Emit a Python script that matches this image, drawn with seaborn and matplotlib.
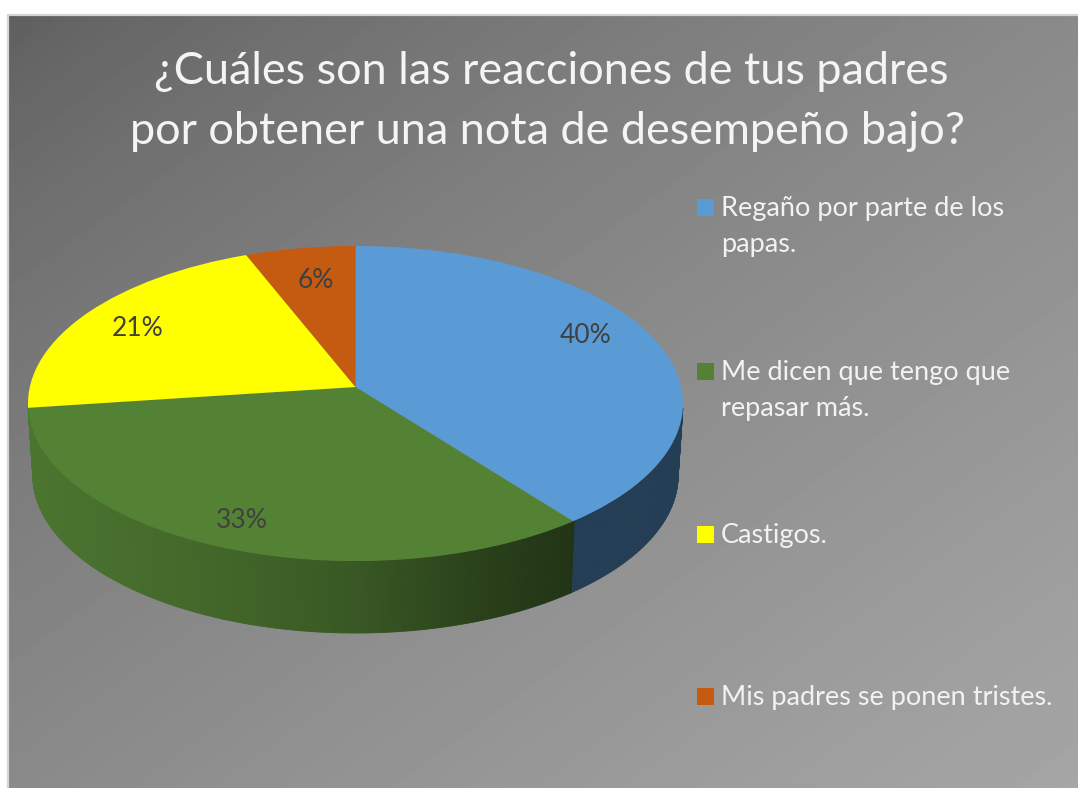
import numpy as np
import matplotlib
matplotlib.use('Agg')
import matplotlib.pyplot as plt
import matplotlib.transforms as mtransforms
from matplotlib.patches import Rectangle
import seaborn as sns

title_lines = ['¿Cuáles son las reacciones de tus padres',
               'por obtener una nota de desempeño bajo?']
categories = ['Regaño por parte de los\npapas.',
              'Me dicen que tengo que\nrepasar más.',
              'Castigos.',
              'Mis padres se ponen tristes.']
values = [39.5, 33.4, 21.1, 6.0]
colors = ['#5b9bd5', '#548235', '#ffff00', '#c55a11']
label_pos = [(586, 335), (242, 520), (138, 328), (316, 280)]
legend_y = [207, 371, 534, 696]

# vista inclinada del pastel (en pixeles de la imagen)
CX, CY = 355.5, 387.0
TILT = 0.1048
SX, SY = 325.7, 155.8
DEPTH = 72
BOTTOM_SCALE = 0.985


class TiltTransform(mtransforms.Transform):
    input_dims = 2
    output_dims = 2

    def transform_non_affine(self, xy):
        xy = np.asarray(xy, dtype=float)
        w = 1 + TILT * xy[:, 1]
        return np.column_stack([CX + SX * xy[:, 0] / w, CY - SY * xy[:, 1] / w])


sns.set_theme(style='white')
plt.rcParams['font.family'] = ['Lato', 'DejaVu Sans']

fig = plt.figure(figsize=(10.78, 7.88), dpi=100, facecolor='white')
ax = fig.add_axes([0, 0, 1, 1])

# fondo degradado
gx, gy = np.meshgrid(np.linspace(0, 1, 200), np.linspace(0, 1, 200))
grad = 0.37 + 0.28 * ((gx + gy) / 2) ** 0.72
ax.imshow(grad, cmap='gray', vmin=0, vmax=1, extent=[9, 1078, 788, 16],
          aspect='auto', zorder=0, interpolation='bilinear')
ax.plot([8, 8, 1078], [788, 15, 15], color='#d4d4d4', lw=1.6, zorder=1)

palette = sns.color_palette(colors)
wedges, _ = ax.pie(values, colors=palette, startangle=90, counterclock=False,
                   wedgeprops={'linewidth': 0, 'zorder': 4})
tilt = TiltTransform()
for w in wedges:
    w.set_transform(tilt + ax.transData)

# pared lateral del pastel, sombreada por tramos
for w, c in zip(wedges, palette):
    t1, t2 = w.theta1 % 360, w.theta2 % 360
    if t2 <= t1:
        t2 += 360
    th = np.radians(np.arange(t1, t2 + 0.5, 0.5))
    th = th[np.sin(th) <= -0.13]
    if len(th) < 2:
        continue
    top = tilt.transform_non_affine(np.column_stack([np.cos(th), np.sin(th)]))
    for i in range(len(th) - 1):
        xt = top[i:i + 2, 0]
        yt = top[i:i + 2, 1]
        xb = CX + (xt - CX) * BOTTOM_SCALE
        yb = yt + DEPTH
        f = np.interp(xt.mean(), [28, 200, 355, 480, 575, 683], [0.90, 0.80, 0.68, 0.50, 0.40, 0.40])
        shade = tuple(np.array(c) * f)
        ax.fill([xt[0], xt[1], xb[1], xb[0]], [yt[0], yt[1], yb[1], yb[0]],
                color=shade, lw=0.6, zorder=3)

# etiquetas de porcentaje
for v, (x, y) in zip(values, label_pos):
    ax.text(x, y, f'{v:.0f}%', color='#404040', fontsize=19, ha='center', va='center', zorder=5)

# titulo
ax.text(551, 71, title_lines[0], color='#f4f4f4', fontsize=32.4, ha='center', va='center', zorder=5)
ax.text(547, 131, title_lines[1], color='#f4f4f4', fontsize=32.4, ha='center', va='center', zorder=5)

# leyenda
for name, c, y in zip(categories, palette, legend_y):
    ax.add_patch(Rectangle((697, y - 8), 17, 17, color=c, lw=0, zorder=5))
    for i, line in enumerate(name.split('\n')):
        ax.text(721, y + 9 + 36 * i, line, color='#f2f2f2', fontsize=19.5, ha='left',
                va='baseline', zorder=5)

ax.set_aspect('auto')
ax.set_xlim(0, 1078)
ax.set_ylim(788, 0)
ax.axis('off')

fig.savefig('out.png', dpi=100, facecolor='white')
